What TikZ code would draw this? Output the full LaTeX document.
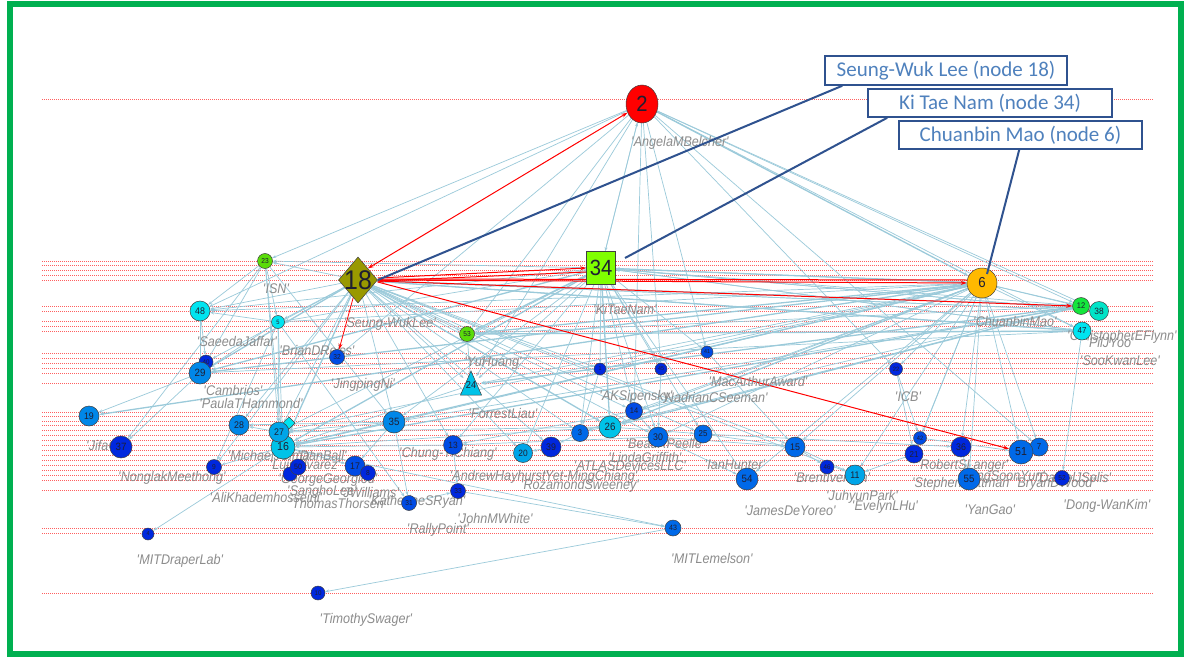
\documentclass[tikz,border=0pt]{standalone}
\usepackage{fontspec}
\setmainfont{Liberation Sans}
\newfontfamily\lblfont[FakeStretch=0.9]{Liberation Sans}
\newfontfamily\numfont[FakeStretch=0.92]{Liberation Sans}
\newfontfamily\calfont{Carlito}
\usetikzlibrary{arrows.meta,shapes.geometric}
\pgfdeclarelayer{bg}
\pgfdeclarelayer{edges}
\pgfdeclarelayer{reds}
\pgfdeclarelayer{labels}
\pgfdeclarelayer{top}
\pgfsetlayers{bg,edges,reds,labels,main,top}
\definecolor{frameg}{RGB}{0,176,80}
\definecolor{dotred}{RGB}{255,95,95}
\definecolor{edgeblue}{RGB}{155,202,218}
\definecolor{calloutc}{RGB}{47,82,143}
\definecolor{callouttxt}{RGB}{79,129,189}
\definecolor{lblgrey}{RGB}{140,140,140}
\definecolor{nred}{RGB}{255,0,0}
\definecolor{nolive}{RGB}{153,153,0}
\definecolor{nlime}{RGB}{128,255,0}
\definecolor{norange}{RGB}{255,185,0}
\definecolor{ngreen}{RGB}{20,230,60}
\definecolor{ngreenb}{RGB}{90,220,10}
\definecolor{naqua}{RGB}{0,228,200}
\definecolor{ncyan}{RGB}{0,228,240}
\definecolor{ncyanb}{RGB}{0,195,232}
\definecolor{bA}{RGB}{0,40,222}
\definecolor{bB}{RGB}{0,75,228}
\definecolor{bC}{RGB}{0,105,232}
\definecolor{bD}{RGB}{0,135,232}
\definecolor{bE}{RGB}{0,165,232}
\definecolor{numtxt}{RGB}{30,30,50}
\tikzset{
  vtxs/.style={circle, draw=black!75, line width=0.5pt, inner sep=0pt},
  vnum/.style={text=numtxt, inner sep=0pt},
  lnk/.style={draw=edgeblue, line width=0.7pt, -{Stealth[length=4pt,width=3pt]}},
  lnkb/.style={draw=edgeblue, line width=1.3pt, -{Stealth[length=5pt,width=3.5pt]}},
  redarr/.style={draw=nred, line width=1pt, -{Stealth[length=6pt,width=4pt]}},
  dotline/.style={draw=dotred, line width=0.75pt, dash pattern=on 1pt off 1pt},
  lbl/.style={text=lblgrey, inner sep=0pt, font=\lblfont\itshape\fontsize{14}{14}\selectfont},
  cbox/.style={draw=calloutc, line width=1.6pt, fill=white, inner sep=0pt, text=callouttxt, font=\calfont\fontsize{21}{24}\selectfont},
  callline/.style={draw=calloutc, line width=2pt},
}
\newcommand\vtx[6]{%
  \pgfmathsetmacro\vfs{0.48*#4}%
  \node[vtxs, minimum size=#4pt, fill=#5, label={[vnum, font=\numfont\fontsize{\vfs}{\vfs}\selectfont]center:#6}] (#1) at (#2,#3) {};}
\newcommand\lab[3]{\node[lbl] (#1) at (#2) {\textquotesingle#3\textquotesingle};}
\begin{document}
\begin{tikzpicture}[x=1pt,y=-1pt]
\useasboundingbox (0,0) rectangle (1185,658);
\begin{pgfonlayer}{bg}
\fill[white] (0,0) rectangle (1185,658);
\foreach \yy in {99,261,265.5,270,275,280,306,311,321,326,331,353,358,363,368,373,383,412,416,421,425,430,435,440,445,450,455,460,465,470,475,480,490,528,533,593}
  \draw[dotline] (42,\yy) -- (1153,\yy);
\draw[frameg, line width=6pt] (9.5,4) rectangle (1181,654);
\end{pgfonlayer}
% ---- special nodes ----
\node[ellipse, draw=black!75, line width=0.5pt, fill=nred, minimum width=32pt, minimum height=38pt, inner sep=0pt,
  label={[vnum, font=\numfont\fontsize{22}{22}\selectfont]center:2}] (n2) at (642,104) {};
\node[diamond, draw=black!75, line width=0.5pt, fill=nolive, minimum width=39pt, minimum height=46pt, inner sep=0pt,
  label={[vnum, font=\numfont\fontsize{27}{27}\selectfont]center:18}] (n18) at (358,280) {};
\node[rectangle, draw=black!75, line width=0.5pt, fill=nlime, minimum width=29pt, minimum height=33pt, inner sep=0pt,
  label={[vnum, font=\numfont\fontsize{22}{22}\selectfont]center:34}] (n34) at (601,268) {};
\draw[black!75, line width=0.5pt, fill=ncyanb] (460.5,395) -- (481.5,395) -- (471,371) -- cycle;
\node[circle, minimum size=20pt, inner sep=0pt, font=\numfont\fontsize{10}{10}\selectfont, text=numtxt] (n24) at (471,385) {24};
\vtx{n6}{982}{283}{30}{norange}{6}
\vtx{n12}{1081}{306}{17}{ngreen}{12}
\vtx{n38}{1099}{311}{19}{naqua}{38}
\vtx{n47}{1082}{331}{18}{ncyan}{47}
\vtx{n22}{896}{369}{13}{bA}{22}
\vtx{n41}{707}{352}{12}{bB}{41}
\vtx{n1}{600}{369}{12}{bA}{1}
\vtx{n45}{661}{369}{12}{bA}{45}
\vtx{n53}{467}{334}{15}{ngreenb}{53}
\vtx{n23}{265}{261}{15}{ngreenb}{23}
\vtx{n48}{200}{311}{20}{ncyan}{48}
\vtx{n5}{278}{322}{13}{ncyan}{5}
\vtx{n32}{337}{357}{15}{bB}{32}
\vtx{n40}{206}{362}{14}{bA}{40}
\vtx{n29}{200}{373}{22}{bD}{29}
\vtx{n19}{89}{416}{20}{bD}{19}
\vtx{n28}{239}{425}{20}{bD}{28}
\node[diamond, draw=black!75, line width=0.5pt, fill=ncyan, minimum size=12pt, inner sep=0pt] (nd) at (289,423) {};
\vtx{n16}{283}{447}{24}{ncyanb}{16}
\vtx{n27}{279}{432}{20}{bE}{27}
\vtx{n37}{121}{447}{22}{bA}{37}
\vtx{n9}{214}{467}{15}{bA}{9}
\vtx{n4}{148}{534}{12}{bA}{4}
\vtx{n10}{318}{593}{14}{bA}{10}
\vtx{n43}{673}{528}{16}{bC}{43}
\vtx{n35}{394}{422}{22}{bD}{35}
\vtx{n13}{453}{445}{19}{bB}{13}
\vtx{n20}{523}{453}{19}{bE}{20}
\vtx{n39}{551}{447}{20}{bA}{39}
\vtx{n3}{580}{433}{17}{bC}{3}
\vtx{n26}{610}{427}{22}{ncyanb}{26}
\vtx{n14}{634}{411}{17}{bB}{14}
\vtx{n30}{658}{437}{20}{bC}{30}
\vtx{n25}{703}{434}{18}{bC}{25}
\vtx{n54}{747}{479}{22}{bC}{54}
\vtx{n33}{458}{491}{15}{bA}{33}
\vtx{n31}{409}{503}{15}{bB}{31}
\vtx{n44}{290}{474}{14}{bA}{}
\vtx{n50}{298}{467}{16}{bA}{50}
\vtx{n17}{355}{466}{20}{bB}{17}
\vtx{n8}{368}{473}{15}{bA}{8}
\vtx{n15}{795}{447}{20}{bC}{15}
\vtx{n46}{827}{467}{14}{bA}{46}
\vtx{n11}{855}{475}{20}{bE}{11}
\vtx{n42}{920}{438}{13}{bB}{42}
\vtx{n21}{914}{454}{18}{bA}{21}
\vtx{n36}{961}{447}{20}{bA}{36}
\vtx{n55}{969}{479}{22}{bC}{55}
\vtx{n7}{1039}{447}{18}{bC}{7}
\vtx{n51}{1021}{452}{24}{bC}{51}
\vtx{n52}{1062}{478}{15}{bA}{52}
% ---- blue edges ----
\begin{pgfonlayer}{edges}
\foreach \a/\b in {n2/n23,n2/n48,n2/n32,n2/n53,n2/n24,n2/n34,n34/n2,n2/n45,n2/n41,n2/n22,n2/n12,n2/n38,n2/n47,n2/n7,n2/n14,
 n34/n23,n34/n5,n34/n48,n34/n24,n34/n35,n34/n27,n34/n1,n34/n45,n34/n41,n34/n14,n34/n3,n34/n30,n34/n12,n34/n47,n34/n38,n34/n13,n34/n20,n34/n54,n34/n25,
 n6/n34,n6/n27,n6/n14,n6/n35,n6/n12,n6/n38,n6/n47,n6/n55,n6/n51,n6/n36,n6/n21,n6/n42,n6/n22,n6/n54,n6/n15,n6/n11,n6/n24,n6/n3,n6/n30,n6/n1,n6/n7,n6/n5,n6/n48,
 n18/n23,n18/n48,n18/n5,n18/n40,n18/n35,n18/n27,n18/n13,n18/n53,n18/n24,n18/n1,n18/n14,n18/n3,n18/n30,n18/n25,n18/n38,n18/n15,n18/n11,n18/n20,n18/n39,n18/n28,n18/n9,
 n12/n53,n12/n35,n12/n14,n12/n3,n12/n18,n47/n29,n47/n52,n47/n18,n47/n34,n38/n34,n38/n18,
 n23/n48,n23/n29,n23/n5,n23/n16,n23/n27,n23/n35,n23/n37,n5/n48,n5/n29,n5/n16,n5/n27,n5/n9,n5/n31,n48/n40,n48/n29,
 n29/n19,n16/n4,n43/n10,n16/n43,n35/n28,n35/n27,n35/n16,n13/n16,n26/n27,n26/n16,n30/n13,n14/n13,n53/n24,n24/n16,n3/n39,n39/n20,
 n25/n15,n30/n54,n15/n46,n15/n11,n42/n51,n7/n51,n36/n55,n22/n42,n21/n11,n17/n8,n31/n33,n33/n43,n35/n31,n16/n17,n27/n28,n16/n9,
 n29/n37,n14/n30,n26/n25,n25/n36,n30/n15,n13/n33,n35/n17,n41/n15,n1/n3,n45/n30,n22/n21}
  \draw[lnk] (\a) -- (\b);
\foreach \a/\b in {n6/n53,n6/n29,n6/n19,n6/n16,n6/n26,n47/n53,n12/n16,n12/n24,n12/n26,n18/n16,n18/n29,n18/n26,n18/n47,
 n34/n16,n34/n29,n34/n53,n34/n26,n34/n6,n2/n6}
  \draw[lnkb] (\a) -- (\b);
\end{pgfonlayer}
% ---- red edges ----
\begin{pgfonlayer}{reds}
\draw[redarr, {Stealth[length=6pt,width=4pt]}-{Stealth[length=6pt,width=4pt]}] (n18.north east) -- (n2);
\draw[redarr] ([yshift=2pt]n18.east) -- (n34.west);
\draw[redarr] ([yshift=-4pt]n34.west) -- ([yshift=-1pt]n18.east);
\draw[redarr] (n18.east) -- (n6.west);
\draw[redarr] ([yshift=3pt]n6.west) -- ([yshift=1pt]n18.east);
\draw[redarr] ([yshift=-1pt]n18.east) -- (n12.west);
\draw[redarr] ([yshift=-2pt]n18.east) -- (n51);
\draw[redarr, line width=0.8pt] (n18) -- (n32);
\end{pgfonlayer}
% ---- labels ----
\begin{pgfonlayer}{labels}
\lab{lA}{680,143}{AngelaMBelcher}
\lab{lB}{390,324}{Seung-WukLee}
\lab{lC}{625,309}{KiTaeNam}
\lab{lD}{1015,321}{ChuanbinMao}
\lab{lE}{276,289}{ISN}
\lab{lF}{237,341}{SaeedaJaffar}
\lab{lG}{317,350}{BrianDReiss}
\lab{lH}{363,385}{JingpingNi}
\lab{lI}{233,390}{Cambrios}
\lab{lJ}{251,403}{PaulaTHammond}
\lab{lK}{493,363}{YuHuang}
\lab{lL}{503,413}{ForrestLiau}
\lab{lM}{636,397}{AKSipensky}
\lab{lN}{715,397}{NadrianCSeeman}
\lab{lO}{758,381}{MacArthurAward}
\lab{lP}{908,397}{ICB}
\lab{lQ}{1122,337}{ChristopherEFlynn}
\lab{lR}{1110,342}{PilJYoo}
\lab{lS}{1120,361}{SooKwanLee}
\lab{lT}{105,447}{JifaQi}
\lab{lU}{172,478}{NonglakMeethong}
\lab{lV}{270,455}{MichaelJCima}
\lab{lW}{322,455}{DanBall}
\lab{lX}{305,464}{LuisAlvarez}
\lab{lY}{328,480}{GeorgeGeorgiou}
\lab{lZ}{266,497}{AliKhademhosseini}
\lab{la}{322,492}{SanghoLee}
\lab{lb}{370,492}{JWilliams}
\lab{lc}{338,503}{ThomasThorsen}
\lab{ld}{417,502}{KatherineSRyan}
\lab{le}{448,454}{Chung-YiChiang}
\lab{lf}{499,477}{AndrewHayhurst}
\lab{lg}{590,477}{Yet-MingChiang}
\lab{lh}{580,486}{RozamondSweeney}
\lab{li}{495,518}{JohnMWhite}
\lab{lj}{438,530}{RallyPoint}
\lab{lk}{665,443}{BeauRPeelle}
\lab{ll}{645,457}{LindaGriffith}
\lab{lm}{630,465}{ATLASDevicesLLC}
\lab{ln}{735,465}{IanHunter}
\lab{lo}{790,511}{JamesDeYoreo}
\lab{lp}{832,478}{BrentIverson}
\lab{lq}{862,497}{JuhyunPark}
\lab{lr}{885,507}{EvelynLHu}
\lab{ls}{963,466}{RobertSLanger}
\lab{lt}{962,484}{StephenHottman}
\lab{lu}{1055,484}{BryanDWood}
\lab{lv}{1074,477}{DanielJSolis}
\lab{lw}{1003,477}{JungSoonYun}
\lab{lx}{990,510}{YanGao}
\lab{ly}{1107,506}{Dong-WanKim}
\lab{lz}{180,561}{MITDraperLab}
\lab{l1}{712,558}{MITLemelson}
\lab{l2}{366,620}{TimothySwager}
\end{pgfonlayer}
% ---- callouts ----
\begin{pgfonlayer}{top}
\node[cbox, minimum width=242pt, minimum height=29pt] (b1) at (946,70.5) {Seung-Wuk Lee (node 18)};
\node[cbox, minimum width=244pt, minimum height=28pt] (b2) at (990,103) {Ki Tae Nam (node 34)};
\node[cbox, minimum width=243pt, minimum height=28pt] (b3) at (1020.5,135) {Chuanbin Mao (node 6)};
\coordinate (k2) at (625,258);
\coordinate (k3) at (987,274);
\draw[callline] ([xshift=18pt]b1.south west) -- (n18.east);
\draw[callline] ([xshift=20pt]b2.south west) -- (k2);
\draw[callline] ([xshift=121pt]b3.south west) -- (k3);
\end{pgfonlayer}
\end{tikzpicture}
\end{document}
